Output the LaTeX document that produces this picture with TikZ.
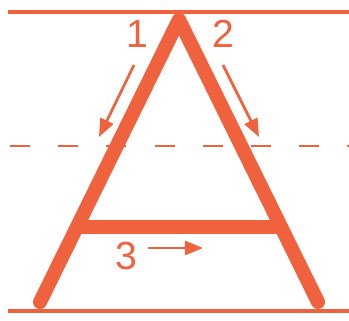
\documentclass[tikz,border=0pt]{standalone}
\usepackage{fontspec}
\setmainfont{Liberation Sans}
\usepackage{xcolor}
\usepackage{tikz}
\usetikzlibrary{arrows.meta}
\definecolor{letterred}{RGB}{240,98,62}
\tikzset{
  guide/.style={letterred, line width=3pt},
  guidedash/.style={letterred, line width=2pt, dash pattern=on 20pt off 28pt},
  letterstroke/.style={letterred, line width=14pt},
  hint/.style={letterred, line width=2.7pt, -{Triangle[length=18pt,width=14pt]}},
  numlabel/.style={font=\fontsize{39}{39}\selectfont, text=letterred, inner sep=0pt}
}

\begin{document}
\begin{tikzpicture}[x=0.35cm, y=0.35cm]
  \useasboundingbox (0,0) rectangle (34.9,32);
  % ruled lines
  \draw[guide] (0.8,30.8) -- (34.9,30.8);
  \draw[guidedash] (1.0,17.4) -- (34.9,17.4);
  \draw[guide] (0.8,0.9) -- (34.9,0.9);
  % the letter
  \coordinate (apex) at (17.9,30.05);
  \coordinate (footL) at (4.0,1.8);
  \coordinate (footR) at (31.8,1.8);
  \coordinate (barL) at (7.8,9.3);
  \coordinate (barR) at (28.0,9.3);
  \draw[letterstroke, line cap=round, line join=round] (footL) -- (apex) -- (footR);
  \draw[letterstroke] (barL) -- (barR);
  % stroke order
  \node[numlabel] (one) at (13.7,28.6) {1};
  \node[numlabel] (two) at (22.3,28.6) {2};
  \node[numlabel] (three) at (12.6,6.4) {3};
  \coordinate (oneS) at (13.4,25.5);
  \coordinate (oneE) at (9.9,18.3);
  \coordinate (twoS) at (22.3,25.5);
  \coordinate (twoE) at (25.9,18.3);
  \coordinate (threeS) at (14.8,7.2);
  \coordinate (threeE) at (20.3,7.2);
  \draw[hint] (oneS) -- (oneE);
  \draw[hint] (twoS) -- (twoE);
  \draw[hint] (threeS) -- (threeE);
\end{tikzpicture}
\end{document}
